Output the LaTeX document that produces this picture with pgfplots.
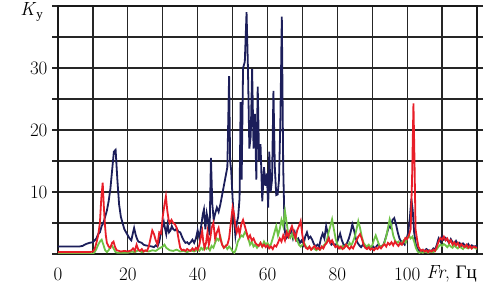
\documentclass[border=0pt]{standalone}
\usepackage{fontspec}
\usepackage{pgfplots}
\pgfplotsset{compat=1.18}
\newfontfamily\cyr{Liberation Serif}
\definecolor{cblue}{RGB}{28,30,90}
\definecolor{cred}{RGB}{232,30,40}
\definecolor{cgreen}{RGB}{110,195,70}
\begin{document}
\begin{tikzpicture}
\begin{axis}[
  scale only axis, width=419pt, height=248pt,
  xmin=0, xmax=120, ymin=0, ymax=40,
  xtick={0,10,...,120}, xticklabels={0,,20,,40,,60,,80,,100,,},
  ytick={0,5,...,40}, yticklabels={,,10,,20,,30,,},
  grid=major,
  major grid style={line width=1.2pt, black!85},
  axis line style={line width=1.3pt, black!90},
  tick align=outside, major tick length=6pt,
  xtick style={draw=none},
  ytick style={draw=black!85, line width=1.2pt},
  /pgf/number format/assume math mode=true,
  ticklabel style={font=\fontsize{19}{21}\selectfont},
  xticklabel style={yshift=-4pt},
  yticklabel style={xshift=-1pt},
  clip=true,
]
\addplot[cblue, line width=1.8pt] coordinates {
(0,1.2)(2,1.2)(4,1.2)(6,1.2)(7,1.3)(8,1.6)(9,1.8)(10,1.9)(11,2.5)(11.5,3.2)(12,3.5)(12.5,4.5)(13,5)(13.5,6)(14,7)(14.5,8.5)(15,10.5)(15.5,13.5)(16,16.5)(16.5,16.8)(17,12)(17.5,8)(18,6)(18.5,5)(19,4)(19.5,3.5)(20,3)(20.5,2.5)(21,2.2)(21.5,3.5)(21.8,4.2)(22.2,3.2)(22.6,2.5)(23,2)(24,1.8)(24.5,1.5)(25,1.4)(26,1.3)(27,1.2)(27.5,1.1)(28,1.4)(28.5,1.2)(29,2)(29.5,3.5)(30,4.5)(30.3,5.2)(30.7,4)(31,3.2)(31.4,4.8)(31.8,3.5)(32.2,3.8)(32.6,4.5)(33,4)(33.5,3.8)(34,4.1)(34.5,3.6)(35,3.5)(35.5,2.8)(36,2.2)(36.5,1.8)(37,1.9)(37.5,1.6)(38,1.9)(38.5,2.3)(39,1.8)(39.5,2.5)(40,3.8)(40.5,2.5)(41,4.5)(41.5,6.5)(41.8,7.2)(42.2,4)(42.6,6.5)(43,5.2)(43.4,3)(43.8,15.5)(44.2,8)(44.6,5.5)(45,6.5)(45.5,7.5)(46,6.8)(46.5,8)(47,9.5)(47.5,11)(48,12.5)(48.5,14)(49,28.7)(49.3,15)(49.6,13.5)(50,9)(50.4,5.5)(50.8,3)(51.2,5)(51.6,6)(52,9)(52.3,24.5)(52.6,12)(53,30)(53.5,31)(54,39)(54.4,30)(54.8,17)(55.2,19)(55.6,29.8)(56,17)(56.4,22.6)(56.8,12)(57.2,27)(57.6,15)(58,17.7)(58.5,8.5)(59,14)(59.4,11)(59.8,13)(60.2,7.5)(60.5,16.5)(60.9,10)(61.3,12)(61.7,26.3)(62.1,14)(62.5,9.5)(62.9,9.6)(63.3,12)(63.7,22)(64.1,38.3)(64.5,14)(64.9,4)(65.3,2.5)(65.8,2.8)(66.3,3.2)(66.8,3.7)(67.3,2.5)(67.8,3.5)(68.3,2.2)(68.8,2.5)(69.3,1.8)(69.8,2.2)(70.3,1.5)(70.8,2.8)(71.3,3.5)(71.8,2.5)(72.3,2.8)(72.8,2.3)(73.3,1.6)(73.8,1.2)(74.3,1.5)(74.8,1.2)(75.3,2.5)(75.8,3.3)(76.3,2.5)(76.8,4.5)(77.3,3.2)(77.8,2)(78.3,1.5)(78.8,1.8)(79.3,1.3)(79.8,1.7)(80.3,2.5)(80.8,3.3)(81.3,2.2)(81.8,1.5)(82.3,1.3)(82.8,1.8)(83.3,2.5)(83.8,3.5)(84.3,4.8)(84.8,3.8)(85.3,2.5)(85.8,1.8)(86.3,1.4)(86.8,1.1)(87.3,1.5)(87.8,1.2)(88.3,0.9)(88.8,1.1)(89.3,0.8)(89.8,1)(90.3,1.2)(90.8,0.9)(91.3,1.3)(91.8,1.6)(92.3,1.1)(92.8,1.3)(93.3,1.6)(93.8,2.5)(94.3,3.5)(94.8,4.5)(95.3,4.2)(95.8,5.5)(96.3,5.8)(96.8,4.8)(97.3,3.5)(97.8,2.5)(98.3,2)(98.8,1.8)(99.3,1.5)(99.8,2.3)(100.3,3.5)(100.8,6)(101.2,8.9)(101.6,7)(102,3.5)(102.5,1.5)(103,0.8)(103.5,0.5)(104,0.6)(104.5,0.4)(105,0.5)(105.5,0.8)(106,0.6)(106.5,0.4)(107,0.5)(107.5,0.9)(108,0.7)(108.5,1.5)(109,2.5)(109.5,2)(110,2.8)(110.5,2.3)(111,2.6)(111.5,2.2)(112,1.8)(112.5,2.4)(113,1.9)(113.5,1.5)(114,2.1)(114.5,1.6)(115,1.8)(115.5,1.3)(116,1.7)(116.5,1.4)(117,1.2)(117.5,1.6)(118,1.1)(118.5,1.4)(119,1.2)(120,1.3)
};
\addplot[cgreen, line width=1.8pt] coordinates {
(0,0.05)(10,0.05)(10.5,0.3)(11,0.8)(11.5,1.5)(12,2)(12.5,2.3)(13,1.5)(13.5,0.6)(14,0.3)(14.5,0.6)(15,1.2)(15.5,1.3)(16,0.8)(16.5,0.3)(17,0.2)(20,0.2)(21,0.4)(22,0.3)(23,0.6)(24,0.3)(25,0.5)(26,0.4)(27,0.6)(28,0.5)(29,0.9)(30,1.2)(30.5,1.5)(31,1)(32,0.6)(33,0.5)(34,0.7)(35,0.4)(36,0.5)(37,0.3)(38,0.6)(39,0.4)(40,0.7)(40.5,0.5)(41,1)(41.5,0.7)(42,1.2)(42.5,0.8)(43,1.1)(43.5,0.6)(44,1.3)(44.5,1)(45,1.8)(45.5,2.5)(46,2.2)(46.5,2.8)(47,1.5)(47.5,1)(48,1.3)(48.5,0.8)(49,1.2)(49.5,0.9)(50,0.4)(50.5,0.2)(51,0.8)(51.5,2)(52,2.5)(52.5,3)(53,2.8)(53.5,3.5)(54,3.2)(54.5,2.5)(55,1.5)(55.5,2)(56,1.2)(56.5,1.5)(57,1)(57.5,1.4)(58,1.8)(58.5,1.2)(59,2)(59.5,1.5)(60,1.8)(60.5,1.2)(61,1.6)(61.5,2.5)(62,3.5)(62.5,4.5)(63,3)(63.5,4)(64,5.5)(64.5,4.5)(65,6.9)(65.5,5)(66,3)(66.5,2.6)(67,3.2)(67.5,2.5)(68,3)(68.5,2.2)(69,1.5)(69.5,1.2)(70,1.5)(70.5,1.8)(71,1.2)(71.5,0.9)(72,1.1)(72.5,0.7)(73,1)(73.5,0.8)(74,0.6)(74.5,0.9)(75,0.7)(75.5,1)(76,1.3)(76.5,1.6)(77,2.2)(77.5,3.5)(78,4.5)(78.5,5.6)(79,4)(79.5,2.5)(80,1.5)(80.5,1.2)(81,0.9)(81.5,1.3)(82,1)(82.5,1.5)(83,1.2)(83.5,1.8)(84,1.4)(84.5,2)(85,2.8)(85.5,4)(86,5.3)(86.5,4.2)(87,2.8)(87.5,1.8)(88,1.4)(88.5,1.2)(89,1.5)(89.5,1.1)(90,1.4)(90.5,2.3)(91,3)(91.5,2.2)(92,1.4)(92.5,1.1)(93,1.4)(93.5,1.8)(94,2.8)(94.5,4.2)(95,5.6)(95.5,4.5)(96,3)(96.5,2.2)(97,1.8)(97.5,2)(98,1.6)(98.5,1.9)(99,2.2)(99.5,1.8)(100,2.5)(100.5,3)(101,2.5)(101.5,2.8)(102,2)(102.5,1)(103,0.4)(103.5,0.2)(104,0.3)(104.5,0.2)(105,0.4)(105.5,0.3)(106,0.2)(107,0.4)(107.5,0.3)(108,0.5)(108.5,0.8)(109,1.2)(109.5,1.5)(110,1.3)(110.5,1.6)(111,1.4)(111.5,1.1)(112,1.5)(112.5,1.2)(113,1)(113.5,1.4)(114,1.1)(114.5,0.9)(115,1.3)(115.5,1)(116,0.8)(116.5,1.2)(117,1)(117.5,0.9)(118,1.2)(118.5,0.9)(119,1.1)(120,0.8)
};
\addplot[cred, line width=1.8pt] coordinates {
(0,0.3)(9,0.3)(10,0.4)(10.5,0.8)(11,1.8)(11.5,3)(12,5)(12.4,9)(12.8,11.5)(13.1,8)(13.4,5)(13.7,3)(14,1.8)(14.5,1.2)(15,1)(15.5,1.8)(15.9,2)(16.3,1.2)(16.8,0.6)(17.5,0.5)(18,0.4)(19,0.5)(20,0.4)(21,0.6)(21.5,0.9)(22,0.5)(22.5,1.5)(23,0.7)(23.5,0.5)(24,0.8)(24.5,0.4)(25,0.6)(25.5,0.5)(26,1.2)(26.5,2.5)(27,3.8)(27.5,3.2)(28,2.2)(28.5,1.5)(29,3.5)(29.5,3.3)(30,6)(30.5,8)(30.9,9.3)(31.3,7)(31.7,5.5)(32,5)(32.5,5.5)(33,5)(33.5,4.8)(34,4.2)(34.5,2.5)(35,1)(35.5,0.6)(36,0.7)(36.5,0.5)(37,0.8)(37.5,0.6)(38,0.5)(38.5,0.9)(39,0.6)(39.5,1)(40,0.7)(40.5,1.5)(41,3)(41.3,3.7)(41.6,2)(42,1)(42.4,1.8)(42.8,3.5)(43.2,1.5)(43.6,2.5)(44,4.2)(44.5,5)(45,2.5)(45.5,3.5)(46,4.2)(46.5,2.5)(47,1.5)(47.5,1)(48,1.3)(48.5,1.5)(49,2.5)(49.5,5)(50,7.5)(50.4,6.5)(50.8,4.5)(51.2,3.5)(51.6,4.2)(52,3.2)(52.5,4.8)(53,5.5)(53.5,4.5)(54,3.5)(54.5,2.5)(55,3)(55.5,2.2)(56,2.5)(56.5,1.8)(57,1.5)(57.5,1.3)(58,1.8)(58.5,1.2)(59,1.5)(59.5,1.1)(60,1.4)(60.5,0.9)(61,1.2)(61.5,0.8)(62,1.4)(62.5,1.2)(63,1.8)(63.5,2.5)(64,2)(64.5,3)(65,2.2)(65.5,3.5)(66,2.8)(66.5,3.8)(67,4.5)(67.5,3.5)(68,2.5)(68.5,3.8)(69,4.5)(69.5,5.3)(70,3)(70.5,1.5)(71,1)(71.5,0.8)(72,1.2)(72.5,0.7)(73,1)(73.5,1.3)(74,0.8)(74.5,1)(75,0.7)(75.5,1.2)(76,0.9)(76.5,1.5)(77,1.8)(77.5,2.5)(78,1.8)(78.5,2.2)(79,1.5)(79.5,1.1)(80,1.3)(80.5,0.9)(81,1.2)(81.5,0.8)(82,1)(82.5,1.5)(83,1.1)(83.5,0.8)(84,1.2)(84.5,0.9)(85,1.5)(85.5,2.2)(86,2.8)(86.5,3.2)(87,2.5)(87.5,1.5)(88,1)(88.5,0.8)(89,1.1)(89.5,0.7)(90,0.9)(90.5,0.6)(91,1)(91.5,0.8)(92,1.2)(92.5,0.9)(93,1.3)(93.5,1.6)(94,1.2)(94.5,1.8)(95,1.5)(95.5,1.9)(96,1.4)(96.5,2)(97,1.6)(97.5,1.3)(98,1.8)(98.5,1.5)(99,2)(99.5,2.6)(100,2.4)(100.5,3)(101,4)(101.4,12)(101.8,24.3)(102.1,15)(102.4,4)(102.8,2.5)(103.2,1.2)(103.6,0.8)(104,0.5)(104.5,0.7)(105,0.4)(105.5,0.6)(106,0.3)(106.5,0.6)(107,0.4)(107.5,0.7)(108,0.5)(108.5,1.2)(109,2)(109.5,2.6)(110,2.3)(110.5,2.8)(111,2.2)(111.5,2.5)(112,1.8)(112.5,2.2)(113,1.5)(113.5,1.9)(114,1.4)(114.5,1.8)(115,1.2)(115.5,1.6)(116,1.3)(116.5,1.1)(117,1.5)(117.5,1)(118,1.3)(118.5,0.9)(119,1.2)(120,1)
};
\end{axis}
\node[anchor=north east, font=\fontsize{19}{21}\selectfont, inner sep=0pt] at (419pt,-11pt) {\textit{Fr}, {\cyr Гц}};
\node[anchor=base east, font=\fontsize{19}{21}\selectfont, inner sep=0pt] at (-15pt,238pt) {\textit{K}\raisebox{-0.35ex}{\fontsize{13}{13}\selectfont\cyr у}};
\path[use as bounding box] (-58pt,-32pt) rectangle (432pt,253pt);
\end{tikzpicture}
\end{document}
